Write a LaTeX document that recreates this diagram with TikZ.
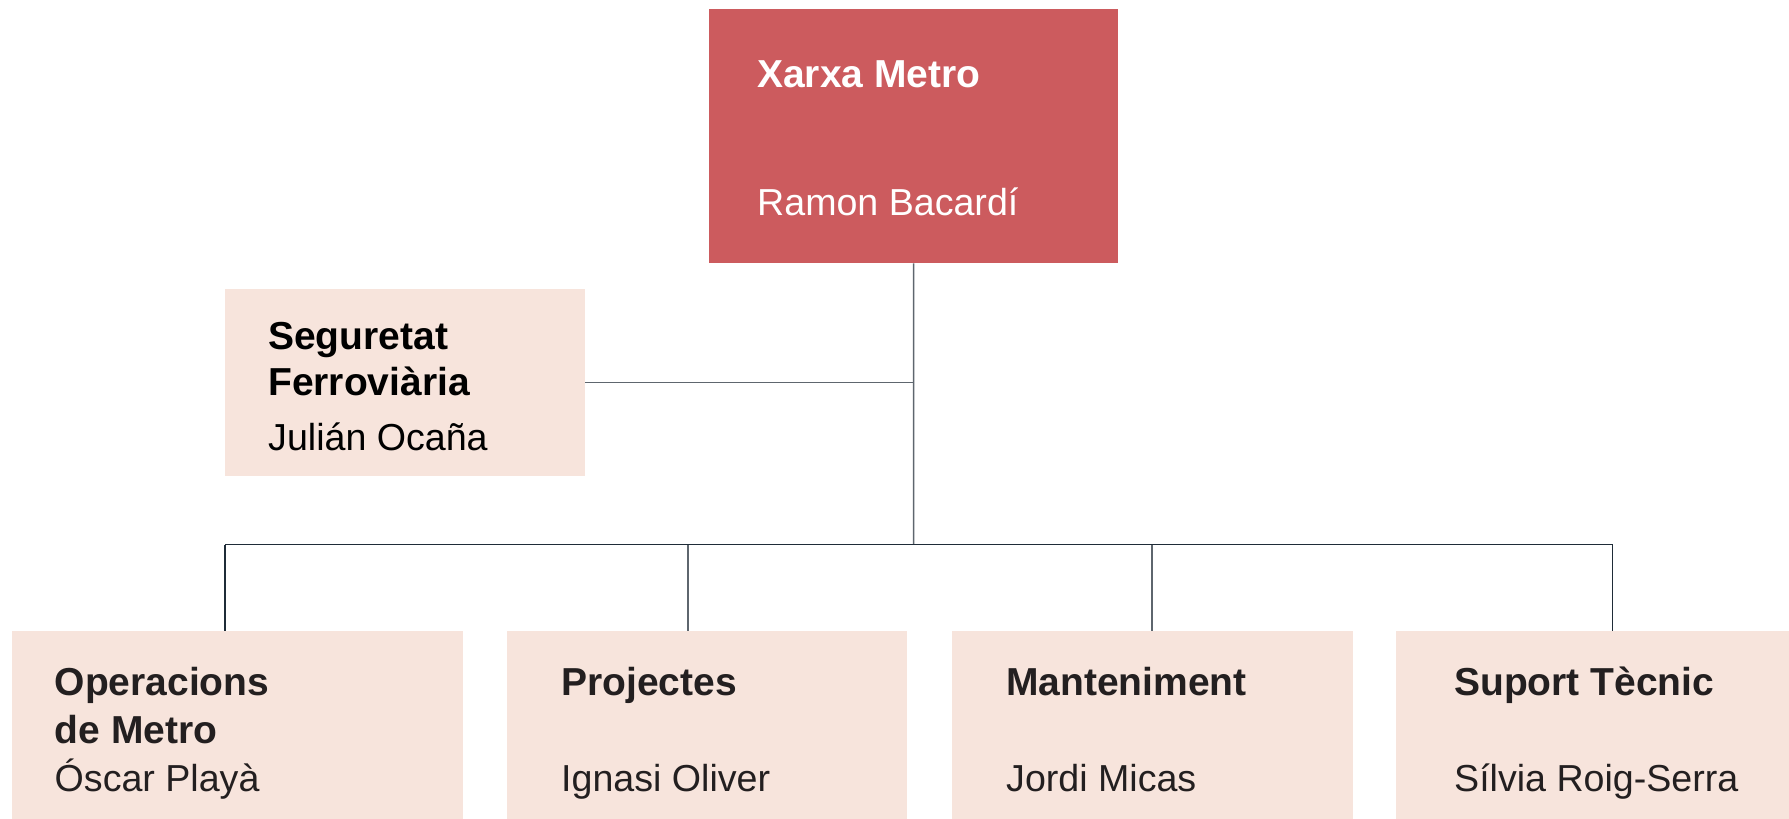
\documentclass[tikz,border=0pt]{standalone}
\usepackage{fontspec}
\setmainfont{Liberation Sans}
\definecolor{topred}{HTML}{CC5B5E}
\definecolor{pinkbox}{HTML}{F7E4DC}
\definecolor{linegray}{HTML}{5E666E}
\definecolor{linedark}{HTML}{1F2C38}
\definecolor{txt}{HTML}{231F20}
\begin{document}
\begin{tikzpicture}[x=1pt,y=-1pt,
  box/.style={draw=none,inner sep=0pt,anchor=north west},
  title/.style={anchor=base west,inner sep=0pt,font=\fontsize{39}{46}\selectfont\bfseries,text=txt},
  person/.style={anchor=base west,inner sep=0pt,font=\fontsize{37.6}{46}\selectfont,text=txt},
  conn/.style={draw=linegray,line width=1.5pt},
  bus/.style={draw=linedark,line width=1.5pt}]
\useasboundingbox (0,0) rectangle (1789,819);
% boxes
\node[box,fill=topred,minimum width=409pt,minimum height=254pt] (top) at (709,9) {};
\node[box,fill=pinkbox,minimum width=360pt,minimum height=187pt] (seg) at (225,289) {};
\node[box,fill=pinkbox,minimum width=451pt,minimum height=190pt] (op) at (12,631) {};
\node[box,fill=pinkbox,minimum width=400pt,minimum height=190pt] (pr) at (507,631) {};
\node[box,fill=pinkbox,minimum width=401pt,minimum height=190pt] (ma) at (952,631) {};
\node[box,fill=pinkbox,minimum width=395pt,minimum height=190pt] (su) at (1396,631) {};
% texts
\node[title,text=white] (topT) at (757,87) {Xarxa Metro};
\node[person,text=white] (topP) at (757,215) {Ramon Bacardí};
\node[title,text=black] (segT1) at (268,349) {Seguretat};
\node[title,text=black] (segT2) at (268,395) {Ferroviària};
\node[person,text=black] (segP) at (268,450) {Julián Ocaña};
\node[title] (opT1) at (54.5,695) {Operacions};
\node[title] (opT2) at (54.5,743) {de Metro};
\node[person] (opP) at (54.5,791) {Óscar Playà};
\node[title] (prT) at (561,695) {Projectes};
\node[person] (prP) at (561,791) {Ignasi Oliver};
\node[title] (maT) at (1006,695) {Manteniment};
\node[person] (maP) at (1006,791) {Jordi Micas};
\node[title] (suT) at (1454,695) {Suport Tècnic};
\node[person] (suP) at (1454,791) {Sílvia Roig-Serra};
% connectors
\coordinate (hub) at (913.5,544.5);
\coordinate (d1) at (225,544.5);
\coordinate (d2) at (688,544.5);
\coordinate (d3) at (1152,544.5);
\coordinate (d4) at (1612.5,544.5);
\draw[conn] (top.south) -- (hub);
\draw[conn] (seg.east) -- (seg.east -| top.south);
\draw[bus] (d1) -- (d4);
\draw[bus] (d1) -- (d1 |- op.north);
\draw[conn] (d2) -- (d2 |- pr.north);
\draw[conn] (d3) -- (d3 |- ma.north);
\draw[bus] (d4) -- (d4 |- su.north);
\end{tikzpicture}
\end{document}
